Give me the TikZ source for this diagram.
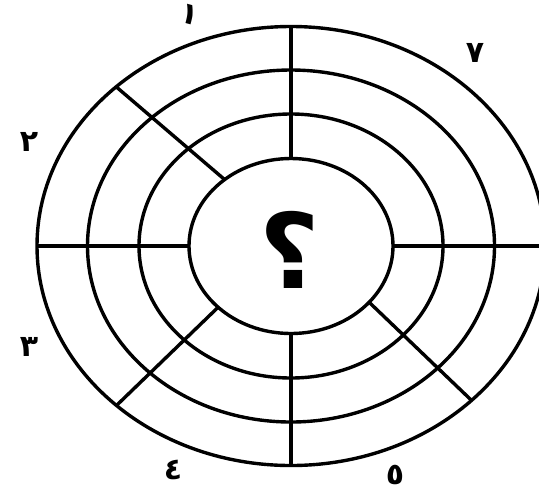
\documentclass[tikz,border=0pt]{standalone}
\usepackage{fontspec}
\newfontfamily\arabicfont[Script=Arabic]{DejaVu Sans}
\TeXXeTstate=1

\begin{document}
\begin{tikzpicture}[x=0.5pt, y=0.5pt,
	ring/.style={line width=1.7pt},
	digit/.style={font=\arabicfont\bfseries\fontsize{15}{15}\selectfont},
	quest/.style={font=\arabicfont\bfseries\fontsize{52}{52}\selectfont}]
	\useasboundingbox (0,0) rectangle (539,495);
	\clip (0,0) rectangle (539,495);
	\begin{scope}[shift={(291,249)}]
		% rings, outer to inner
		\foreach \rx/\ry in {254/219.5, 203.5/176, 152/132, 102/87.5} {\draw[ring] (0,0) ellipse [x radius=\rx, y radius=\ry];}
		% spokes from the inner ring to the outer ring
		\foreach \a/\b in {90/90, 270/270, 180/180, 0/0, 130.6/133.5, 224.4/226.6, -40/-44.7} {\draw[ring] (\a:102 and 87.5) -- (\b:254 and 219.5);}
		\node[quest] (q) at (-1,-4) {\beginR ؟\endR};
	\end{scope}
	\node[digit, rotate=-15] (d1) at (190,480) {\beginR ١\endR};
	\node[digit] (d2) at (29,353) {\beginR ٢\endR};
	\node[digit] (d3) at (29,148) {\beginR ٣\endR};
	\node[digit] (d4) at (173,25) {\beginR ٤\endR};
	\node[digit] (d5) at (395,20) {\beginR ٥\endR};
	\node[digit] (d7) at (475,442) {\beginR ٧\endR};
\end{tikzpicture}
\end{document}
